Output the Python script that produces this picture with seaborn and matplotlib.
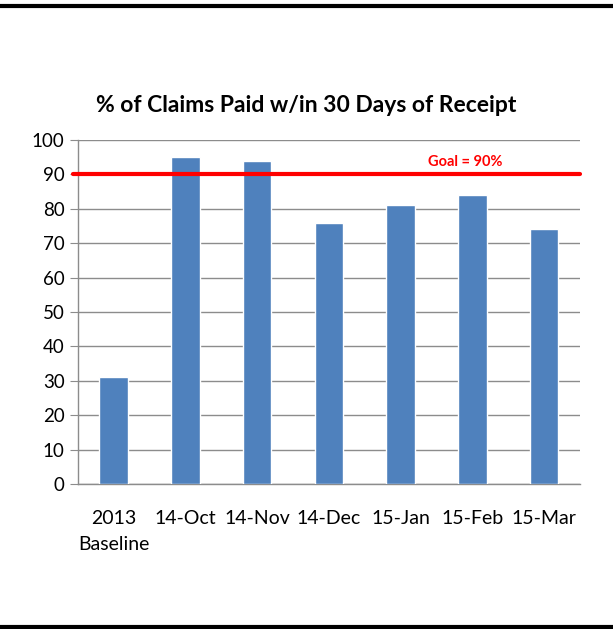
import matplotlib
matplotlib.use("Agg")
import matplotlib.pyplot as plt
import seaborn as sns
from matplotlib.lines import Line2D

periods = ["2013\nBaseline", "14-Oct", "14-Nov", "14-Dec", "15-Jan", "15-Feb", "15-Mar"]
pct_paid = [31, 95, 94, 76, 81, 84, 74]
goal = 90

sns.set_style("white")
plt.rcParams["font.family"] = ["Lato", "DejaVu Sans"]
plt.rcParams["text.color"] = "black"
plt.rcParams["xtick.color"] = "black"
plt.rcParams["ytick.color"] = "black"

fig = plt.figure(figsize=(6.13, 6.29), dpi=100)
ax = fig.add_axes([0.127, 0.2305, 0.819, 0.547])

sns.barplot(x=periods, y=pct_paid, color="#4F81BD", saturation=1, width=0.4, ax=ax, zorder=3)

ax.set_ylim(0, 100)
ax.set_xlim(-0.5, len(periods) - 0.5)
ax.set_yticks(range(0, 101, 10))
ax.yaxis.grid(True, color="#8c8c8c", linewidth=1)
ax.set_axisbelow(True)
ax.axhline(goal, color="#ff0000", linewidth=3, zorder=4, xmin=-0.01, clip_on=False)
ax.text(4.9, goal + 1.5, "Goal = 90%", color="#ff0000", fontsize=10.5, fontweight="bold",
        ha="center", va="bottom")

for s in ["top", "right"]:
    ax.spines[s].set_visible(False)
for s in ["left", "bottom"]:
    ax.spines[s].set_color("#8c8c8c")
    ax.spines[s].set_linewidth(1)

ax.set_xticks([i - 0.5 for i in range(len(periods) + 1)], minor=True)
ax.tick_params(axis="x", which="major", length=0, pad=19, labelsize=14, labelcolor="black")
ax.tick_params(axis="x", which="minor", length=7, color="#8c8c8c", direction="out")
ax.tick_params(axis="y", length=6, color="#8c8c8c", direction="out", labelsize=13.5,
               labelcolor="black", left=True)
for lbl in ax.get_xticklabels():
    lbl.set_linespacing(1.6)
ax.set_xlabel("")
ax.set_ylabel("")

ax.set_title("% of Claims Paid w/in 30 Days of Receipt", fontsize=16.5, fontweight="bold",
             pad=20, color="black", x=0.455)

fig.add_artist(Line2D([0, 1], [1 - 6 / 629, 1 - 6 / 629], color="black", linewidth=3))
fig.add_artist(Line2D([0, 1], [2 / 629, 2 / 629], color="black", linewidth=3))

fig.savefig("out.png", dpi=100, facecolor="white")
